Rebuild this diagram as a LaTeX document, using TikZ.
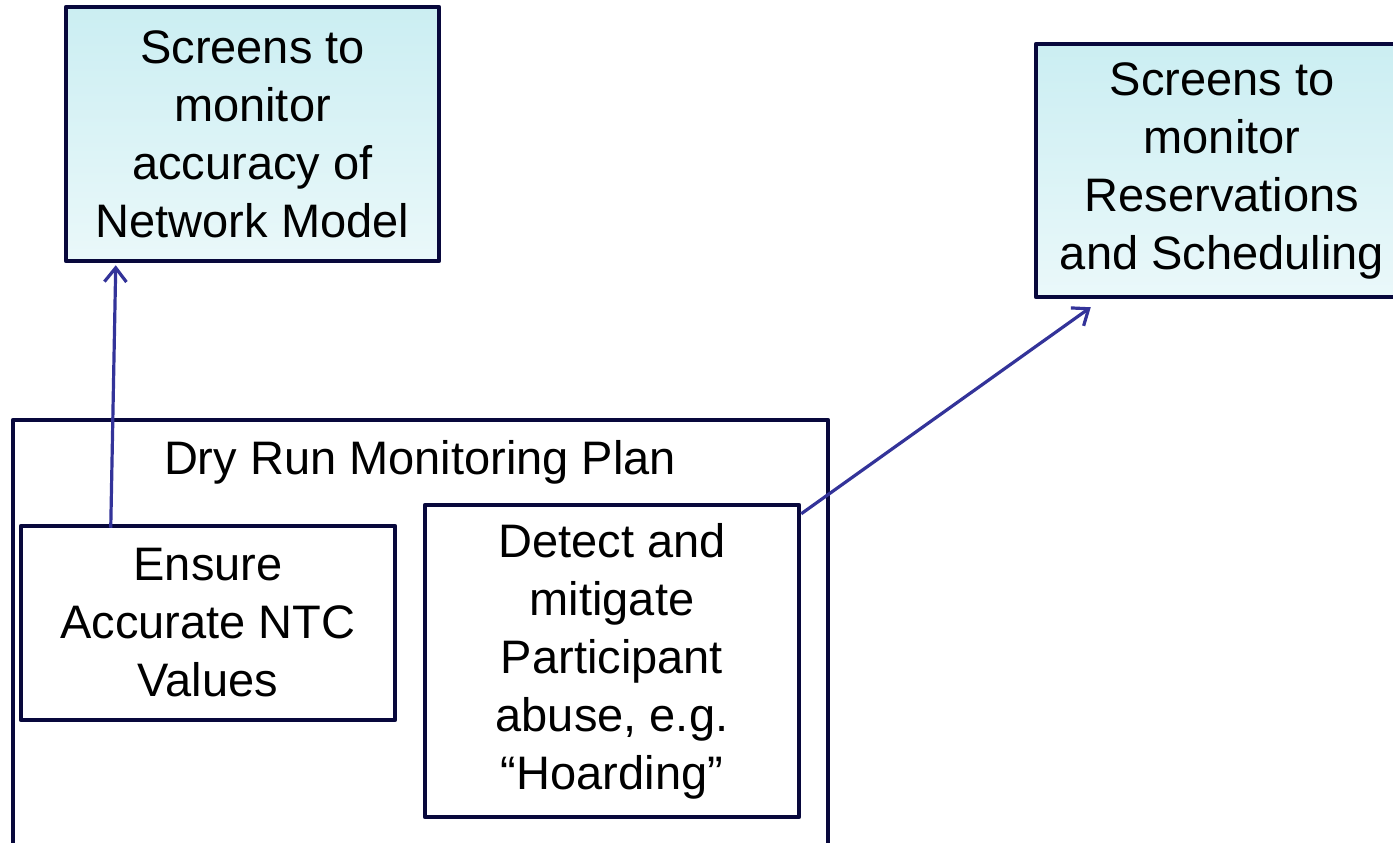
\documentclass[tikz,border=0pt]{standalone}
\usepackage{fontspec}
\setmainfont{Liberation Sans}
\usetikzlibrary{arrows.meta}
\definecolor{navy}{RGB}{8,8,60}
\definecolor{arrowblue}{RGB}{51,51,153}
\definecolor{cyantop}{RGB}{203,238,242}
\definecolor{cyanbot}{RGB}{234,248,250}
\begin{document}
\begin{tikzpicture}[x=1pt,y=-1pt,
  box/.style={draw=navy,line width=4.5pt,line join=round,rectangle,inner sep=0pt,
    align=center,font=\fontsize{47}{58}\selectfont},
  screenbox/.style={box,top color=cyantop,bottom color=cyanbot},
  arr/.style={draw=arrowblue,line width=3.2pt,
    -{Straight Barb[length=14pt,width=22pt,line width=3.2pt]}}]
\useasboundingbox (0,0) rectangle (1393,843);
\clip (0,0) rectangle (1393,843);
\node[screenbox,minimum width=373pt,minimum height=254pt] (A) at (252.5,134)
  {Screens to\\monitor\\accuracy of\\Network Model};
\node[screenbox,minimum width=372pt,minimum height=253pt] (B) at (1222,170.5)
  {Screens to\\monitor\\Reservations\\and Scheduling};
\node[box,minimum width=815pt,minimum height=440pt] (plan) at (420.5,640) {};
\node[font=\fontsize{47}{58}\selectfont,inner sep=0pt] (title) at (420,462) {Dry Run Monitoring Plan};
\node[box,minimum width=374pt,minimum height=194pt] (C) at (208,623)
  {Ensure\\Accurate NTC\\Values};
\node[box,minimum width=374pt,minimum height=312pt] (D) at (612,661)
  {Detect and\\mitigate\\Participant\\abuse, e.g.\\“Hoarding”};
\draw[arr] ([xshift=92pt,yshift=-4pt]C.north west) -- ([xshift=52pt,yshift=-2pt]A.south west);
\draw[arr] ([yshift=-11pt]D.north east) -- ([xshift=57pt,yshift=-8pt]B.south west);
\end{tikzpicture}
\end{document}
